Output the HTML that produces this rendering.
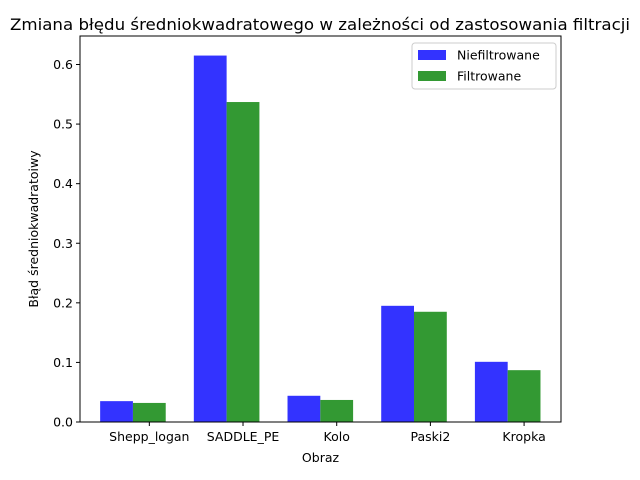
<!DOCTYPE html>
<html><head><meta charset="utf-8"><style>
body{margin:0;background:#fff}
svg{display:block;font-family:"DejaVu Sans","Liberation Sans",sans-serif}
</style></head><body>
<svg id="chart" width="640" height="480">
<rect width="640" height="480" fill="#fff"/>
<text x="320" y="30" text-anchor="middle" font-size="16" textLength="620" lengthAdjust="spacingAndGlyphs">Zmiana błędu średniokwadratowego w zależności od zastosowania filtracji</text>
<g id="plot"></g>
</svg>
<script>
const categories=["Shepp_logan","SADDLE_PE","Kolo","Paski2","Kropka"];
const unfiltered=[0.035,0.615,0.044,0.195,0.101];
const filtered=[0.032,0.537,0.037,0.185,0.087];
const yTicks=[0,0.1,0.2,0.3,0.4,0.5,0.6];
const yTickLabels=["0.0","0.1","0.2","0.3","0.4","0.5","0.6"];
const L=80,R=561,T=36,B=422,W=0.35;
const x0=-0.39,x1=4.744;
const X=v=>L+(v-x0)/(x1-x0)*(R-L);
const Y=v=>B-v/0.6*(B-64.5);
const g=document.getElementById('plot');
const NS='http://www.w3.org/2000/svg';
function mk(t,a){const e=document.createElementNS(NS,t);for(const k in a)e.setAttribute(k,a[k]);g.appendChild(e);return e;}
categories.forEach((c,i)=>{
  const b=mk('rect',{x:X(i-W/2),y:Y(unfiltered[i]),width:X(W)-X(0),height:B-Y(unfiltered[i]),fill:'#3333ff'});
  
  
  const f=mk('rect',{x:X(i+W/2),y:Y(filtered[i]),width:X(W)-X(0),height:B-Y(filtered[i]),fill:'#339933'});
  
  
  const tx=X(i+W);
  mk('line',{x1:tx,x2:tx,y1:B,y2:B+4,stroke:'#000'});
  const t=mk('text',{x:tx,y:B+19,'text-anchor':'middle','font-size':'12.5'});
  t.textContent=c;
  
  
});
yTicks.forEach((v,i)=>{
  const y=Y(v);
  mk('line',{x1:L-4,x2:L,y1:y,y2:y,stroke:'#000'});
  const t=mk('text',{x:L-7,y:y+4.5,'text-anchor':'end','font-size':'12.5'});
  t.textContent=yTickLabels[i];
  
  
});
const fr=mk('rect',{x:L,y:T,width:R-L,height:B-T,fill:'none',stroke:'#000','stroke-width':1});


const xl=mk('text',{x:(L+R)/2,y:462,'text-anchor':'middle','font-size':'12.5'});
xl.textContent='Obraz';


const yl=mk('text',{x:0,y:0,'text-anchor':'middle','font-size':'12.5',transform:'translate(38,229) rotate(-90)'});
yl.textContent='Błąd średniokwadratoiwy';


const lg=mk('rect',{x:412,y:43,width:144,height:46,rx:3,fill:'#fff',stroke:'#ccc'});


[['Niefiltrowane','#3333ff',55],['Filtrowane','#339933',76]].forEach(([n,c,y])=>{
  const s=mk('rect',{x:418,y:y-5,width:28,height:10,fill:c});
  
  
  const t=mk('text',{x:457,y:y+4.5,'font-size':'12.5'});
  t.textContent=n;
  
  
});
</script>
</body></html>
